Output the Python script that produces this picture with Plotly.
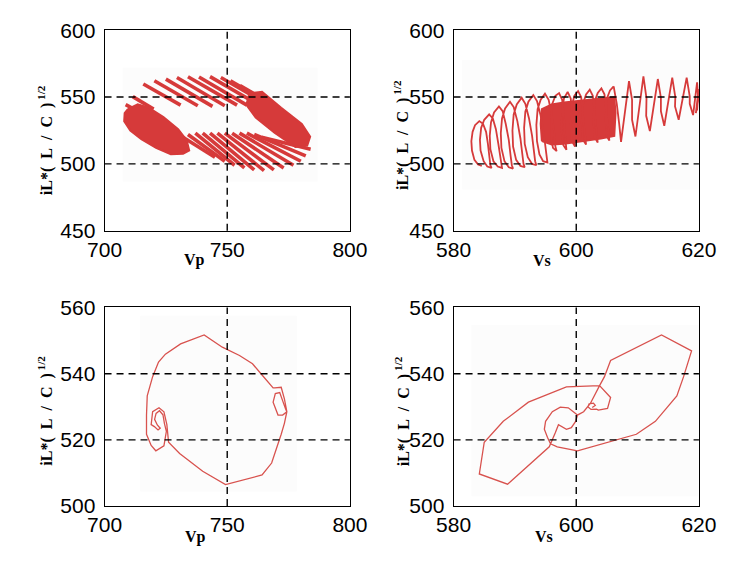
import plotly.graph_objects as go

# ---------------- data ----------------
# Top-left (Vp vs iL*sqrt(L/C)) : diagonal strokes and two dense blobs
TL_up_x0 = [708.6, 711.5, 715.8, 720.3, 725.0, 729.5, 734.0, 738.5, 743.0, 747.4, 751.3, 755.2]
TL_up_y0 = [544.3, 550.3, 559.8, 562.2, 563.4, 564.6, 565.2, 565.0, 565.3, 564.6, 562.2, 558.6]
TL_up_x1 = [716.0, 720.0, 731.0, 738.0, 744.0, 749.0, 754.0, 758.0, 762.0, 766.0, 769.0, 771.0]
TL_up_y1 = [537.0, 541.0, 544.0, 543.5, 543.0, 543.5, 544.0, 544.0, 545.0, 545.0, 543.5, 542.0]
TL_lo_x0 = [731, 734, 737, 740, 743, 746, 749, 752, 755, 758, 761, 764]
TL_lo_y0 = [521, 522, 523, 523, 523, 523, 523, 523, 523, 523, 522, 520]
TL_lo_x1 = [745, 749, 753, 757, 761, 765, 769, 773, 777, 780, 782, 784]
TL_lo_y1 = [505, 502, 499, 497, 495.5, 495, 495.5, 497, 499, 502, 506, 511]
TL_blobL_x = [709.5, 713.5, 718.0, 724.0, 730.0, 733.5, 734.5, 732.0, 727.0, 721.0, 715.0, 710.5, 708.0, 708.2, 709.5]
TL_blobL_y = [541.0, 544.5, 542.0, 535.0, 526.0, 517.5, 510.0, 507.5, 507.2, 512.0, 518.5, 525.0, 532.0, 538.0, 541.0]
TL_blobR_x = [759.0, 764.2, 772.0, 780.4, 783.8, 782.6, 777.8, 769.4, 761.6, 757.8, 759.0]
TL_blobR_y = [552.7, 553.9, 541.9, 529.9, 520.4, 513.7, 512.7, 523.2, 534.7, 544.3, 552.7]

# Top-right (Vs vs iL*sqrt(L/C)) : rounded coil on the left, through the dense block
TR_left_x = [584.6, 584.0, 583.4, 583.0, 582.9, 583.1, 583.5, 584.2,
             584.8, 585.3, 585.6, 585.9, 586.0, 586.2,
             585.5, 584.9, 584.4, 584.3, 584.5, 585.0, 585.8,
             586.4, 586.9, 587.3, 587.6, 587.8, 587.9,
             587.2, 586.5, 586.0, 585.9, 586.1, 586.6, 587.4,
             588.0, 588.5, 589.0, 589.3, 589.5, 589.7,
             589.0, 588.3, 587.8, 587.7, 587.9, 588.4, 589.2,
             589.8, 590.4, 590.9, 591.2, 591.4, 591.6,
             590.9, 590.2, 589.7, 589.6, 589.8, 590.3, 591.1,
             591.7, 592.3, 592.8, 593.1, 593.3, 593.5,
             592.8, 592.1, 591.6, 591.5, 591.7, 592.2, 593.0,
             593.6, 594.2, 594.7, 595.0, 595.2, 595.3,
             594.6, 594.0, 593.6, 593.5, 593.7, 594.2, 594.9,
             595.5, 596.0, 596.4, 596.6, 596.8,
             596.2, 595.9, 595.9, 596.1, 596.6, 597.2,
             597.7, 598.0, 598.2, 598.3, 598.4,
             597.9, 597.6, 597.7, 598.0, 598.6,
             599.1, 599.4, 599.6, 599.8,
             599.3, 599.1, 599.3, 599.7, 600.3,
             600.8, 601.1, 601.4, 601.6,
             601.1, 600.9, 601.1, 601.6, 602.2,
             602.7, 603.0, 603.3, 603.5,
             603.0, 602.8, 603.0, 603.5, 604.1,
             604.6, 604.9, 605.2, 605.4,
             604.9, 604.8, 605.0, 605.5, 606.1]
TR_left_y = [498.5, 499.5, 503.0, 510.0, 517.0, 524.0, 529.0, 532.0,
             530.0, 524.0, 515.0, 505.0, 499.0, 497.0,
             498.0, 502.0, 510.0, 518.0, 527.0, 533.0, 537.0,
             534.0, 526.0, 515.0, 505.0, 499.0, 497.0,
             498.0, 502.0, 511.0, 521.0, 531.0, 538.5, 543.0,
             539.5, 530.0, 518.0, 506.0, 499.0, 496.5,
             497.5, 502.0, 512.0, 523.0, 534.0, 541.5, 546.5,
             542.5, 532.0, 519.0, 507.0, 500.0, 497.5,
             498.5, 503.0, 513.0, 525.0, 537.0, 544.5, 549.5,
             545.0, 534.0, 521.0, 509.0, 502.0, 499.0,
             500.0, 505.0, 515.0, 527.0, 539.0, 546.5, 551.5,
             547.0, 536.0, 523.0, 511.0, 504.0, 501.0,
             502.0, 507.0, 517.0, 529.0, 541.0, 548.0, 552.5,
             548.0, 537.0, 524.0, 513.0, 509.5,
             512.0, 520.0, 533.0, 545.0, 551.0, 553.0,
             548.0, 535.0, 520.0, 512.0, 510.5,
             514.0, 525.0, 540.0, 549.0, 553.8,
             549.0, 535.0, 520.0, 513.0,
             517.0, 530.0, 544.0, 551.0, 554.5,
             550.0, 536.0, 521.0, 514.5,
             518.0, 531.0, 545.0, 552.0, 555.5,
             551.0, 538.0, 523.0, 516.0,
             520.0, 533.0, 547.0, 553.0, 556.5,
             552.0, 540.0, 525.0, 517.5,
             521.0, 535.0, 549.0, 555.0, 558.0]
TR_block_x = [594.4, 594.2, 594.4, 596.0, 598.0, 600.0, 602.0, 604.0, 606.2, 606.4, 606.2, 604.0, 602.0, 600.0, 598.0, 596.0, 594.4]
TR_block_y = [517.0, 530.0, 541.0, 544.5, 546.0, 547.0, 548.0, 549.0, 550.0, 538.0, 521.0, 519.0, 517.5, 516.0, 515.0, 514.5, 517.0]
# right part: lower valleys, upper peaks, upper valleys, lower shoulders
TR_right_x = [606.1, 606.6, 607.0, 607.3, 608.6, 609.1, 609.1, 609.65, 610.95, 611.45, 611.4, 612.0,
              613.3, 613.8, 613.8, 614.35, 615.65, 616.15, 616.1, 616.7, 618.0, 618.5, 618.5, 619.05,
              619.7, 619.9, 619.5, 619.95, 619.7]
TR_right_y = [558.0, 545.0, 530.0, 516.5, 562.0, 548.0, 533.0, 520.5, 565.5, 549.0, 536.0, 524.5,
              563.5, 549.5, 539.5, 528.5, 564.6, 550.0, 543.0, 533.0, 564.6, 550.5, 545.0, 536.5,
              561.0, 548.0, 538.0, 556.0, 540.0]

# Bottom-left trajectory
BL_x = [722.6, 721.5, 720.4, 721.0, 722.4, 723.8, 724.4, 725.2, 724.2, 721.8, 720.9, 719.0, 717.1, 717.1,
        717.4, 719.6, 722.0, 724.8, 726.7, 731.0, 740.6, 748.0, 755.0, 760.3, 764.2, 766.5, 768.7,
        769.4, 772.0, 773.3, 774.3, 772.6, 770.7, 768.7, 769.6, 771.4, 772.6, 773.8, 774.3, 773.3,
        772.0, 768.1, 764.2, 757.0, 749.3, 740.0, 730.6, 726.1, 725.4, 724.2, 722.2, 719.6, 719.0,
        720.3, 721.8, 722.9]
BL_y = [523.6, 524.5, 526.2, 528.0, 528.8, 527.6, 525.0, 522.6, 518.2, 517.0, 516.7, 518.3, 521.7, 527.5,
        533.3, 539.1, 543.5, 545.9, 546.9, 549.0, 551.7, 548.0, 545.5, 543.0, 539.6, 537.5, 535.7,
        535.7, 535.9, 532.4, 528.5, 527.5, 527.5, 531.4, 534.0, 534.3, 531.5, 529.3, 528.5, 525.0,
        521.7, 513.0, 509.4, 508.0, 506.5, 510.5, 515.9, 519.3, 524.6, 528.5, 529.7, 528.5, 524.6,
        524.0, 523.0, 523.7]

# Bottom-right trajectory
BR_x = [602.6, 603.1, 602.8, 602.1, 601.9, 602.4, 603.3, 603.6, 605.1, 605.6, 603.8, 598.4, 592.2,
        588.1, 585.0, 584.2, 588.8, 595.6, 596.6, 597.1, 598.4, 599.2, 599.9, 600.2, 601.2, 602.3,
        603.8, 604.6, 605.6, 613.9, 618.8, 617.5, 616.4, 612.9, 609.8, 602.5, 600.2, 596.9, 595.8,
        595.3, 594.8, 595.0, 596.1, 597.4, 598.7, 600.2]
BR_y = [529.8, 530.4, 531.1, 530.9, 530.0, 529.2, 529.3, 529.0, 529.5, 532.8, 536.4, 536.0, 531.4,
        525.6, 519.3, 509.7, 506.6, 517.9, 522.2, 524.6, 523.2, 523.7, 525.6, 527.5, 528.5, 531.0,
        536.4, 539.1, 544.0, 551.7, 546.9, 539.1, 533.3, 525.6, 521.7, 517.9, 516.7, 517.9, 518.8,
        520.8, 523.2, 525.6, 528.5, 529.9, 529.7, 527.5]

# axes
VP_RANGE = [700, 800]
VS_RANGE = [580, 620]
TOP_Y_RANGE = [450, 600]
BOT_Y_RANGE = [500, 560]
VP_TICKS = [700, 750, 800]
VS_TICKS = [580, 600, 620]
TOP_Y_TICKS = [450, 500, 550, 600]
BOT_Y_TICKS = [500, 520, 540, 560]
VP_GRID = [750]
VS_GRID = [600]
TOP_Y_GRID = [500, 550]
BOT_Y_GRID = [520, 540]

# ---------------- figure ----------------
RED = "#d63a3a"
RED_THIN = "#d8524e"

def seg_xy(x0, y0, x1, y1):
    xs, ys = [], []
    for a, b, c, d in zip(x0, y0, x1, y1):
        xs += [a, c, None]
        ys += [b, d, None]
    return xs, ys

fig = go.Figure()

# top-left
ux, uy = seg_xy(TL_up_x0, TL_up_y0, TL_up_x1, TL_up_y1)
lx, ly = seg_xy(TL_lo_x0, TL_lo_y0, TL_lo_x1, TL_lo_y1)
fig.add_trace(go.Scatter(x=ux, y=uy, mode="lines", line=dict(color=RED, width=3.6), xaxis="x", yaxis="y"))
fig.add_trace(go.Scatter(x=lx, y=ly, mode="lines", line=dict(color=RED, width=3.6), xaxis="x", yaxis="y"))
for bx, by in [(TL_blobL_x, TL_blobL_y), (TL_blobR_x, TL_blobR_y)]:
    fig.add_trace(go.Scatter(x=bx, y=by, mode="lines", fill="toself", fillcolor=RED,
                             line=dict(color=RED, width=2), xaxis="x", yaxis="y"))

# top-right
fig.add_trace(go.Scatter(x=TR_block_x, y=TR_block_y, mode="lines", fill="toself", fillcolor=RED,
                         line=dict(color=RED, width=2), xaxis="x2", yaxis="y2"))
fig.add_trace(go.Scatter(x=TR_left_x, y=TR_left_y, mode="lines", line=dict(color=RED, width=1.8),
                         xaxis="x2", yaxis="y2"))
fig.add_trace(go.Scatter(x=TR_right_x, y=TR_right_y, mode="lines", line=dict(color=RED, width=1.8),
                         xaxis="x2", yaxis="y2"))

# bottom
fig.add_trace(go.Scatter(x=BL_x, y=BL_y, mode="lines", line=dict(color=RED_THIN, width=1.3),
                         xaxis="x3", yaxis="y3"))
fig.add_trace(go.Scatter(x=BR_x, y=BR_y, mode="lines", line=dict(color=RED_THIN, width=1.3),
                         xaxis="x4", yaxis="y4"))

W, H = 735, 566
def px_x(p):
    return p / W
def px_y(p):
    return 1 - p / H

LX = [px_x(91), px_x(349)]
RX = [px_x(458), px_x(716)]
TY = [px_y(228), px_y(19)]
BY = [px_y(515), px_y(308)]

tickfont = dict(family="Liberation Sans Narrow, Arial Narrow, Liberation Sans, Arial", size=21, color="black")

def xax(dom, rng, tv, anchor):
    return dict(domain=dom, range=rng, tickvals=tv, showline=True, linecolor="black", linewidth=1,
                mirror=True, ticks="", showgrid=False, zeroline=False, tickfont=tickfont, anchor=anchor)

def yax(dom, rng, tv, anchor):
    return dict(domain=dom, range=rng, tickvals=tv, showline=True, linecolor="black", linewidth=1,
                mirror=True, ticks="", showgrid=False, zeroline=False, tickfont=tickfont, anchor=anchor,
                ticklabelstandoff=4)

shapes = []
# very faint scanned background patches
for xr, yr, x0, x1, y0, y1 in [("x", "y", 707.4, 786.8, 486.6, 572.0),
                               ("x2", "y2", 581.4, 619.9, 480.9, 577.8),
                               ("x3", "y3", 714.5, 778.4, 504.4, 557.5),
                               ("x4", "y4", 582.9, 619.9, 503.0, 554.7)]:
    shapes.append(dict(type="rect", xref=xr, yref=yr, x0=x0, x1=x1, y0=y0, y1=y1,
                       fillcolor="#fcfcfc", line=dict(width=0), layer="below"))

grid_line = dict(color="black", width=1.4, dash="7px,5px")
for xr, yr, xg, yg in [("x", "y", VP_GRID, TOP_Y_GRID), ("x2", "y2", VS_GRID, TOP_Y_GRID),
                       ("x3", "y3", VP_GRID, BOT_Y_GRID), ("x4", "y4", VS_GRID, BOT_Y_GRID)]:
    for v in xg:
        shapes.append(dict(type="line", xref=xr, yref=yr + " domain", x0=v, x1=v, y0=0, y1=1,
                           line=grid_line, layer="above"))
    for v in yg:
        shapes.append(dict(type="line", xref=xr + " domain", yref=yr, x0=0, x1=1, y0=v, y1=v,
                           line=grid_line, layer="above"))

title_font = dict(family="Liberation Serif, Times New Roman, serif", size=16, color="black")
NB = "\u00a0"
ytitle = ("<b>iL*(" + NB * 2 + "L" + NB * 2 + "/" + NB * 2 + "C" + NB * 2 + ")</b>"
          "<sup><b>" + NB + "1/2</b></sup>")
annotations = []
for xc, yc in [(29, 134), (404, 128), (29, 416), (404, 416)]:
    annotations.append(dict(text=ytitle, x=px_x(xc), y=px_y(yc), xref="paper", yref="paper",
                            showarrow=False, textangle=-90, font=title_font,
                            xanchor="center", yanchor="middle"))
for txt, xc, yc in [("Vp", 186, 258), ("Vs", 551, 259), ("Vp", 187, 547), ("Vs", 553, 547)]:
    annotations.append(dict(text="<b>" + txt + "</b>", x=px_x(xc), y=px_y(yc), xref="paper", yref="paper",
                            showarrow=False, font=dict(family="Liberation Serif, Times New Roman, serif",
                                                       size=16, color="black"),
                            xanchor="center", yanchor="middle"))

fig.update_layout(
    width=W, height=H, margin=dict(l=0, r=0, t=0, b=0),
    paper_bgcolor="white", plot_bgcolor="white", showlegend=False,
    xaxis=xax(LX, VP_RANGE, VP_TICKS, "y"), yaxis=yax(TY, TOP_Y_RANGE, TOP_Y_TICKS, "x"),
    xaxis2=xax(RX, VS_RANGE, VS_TICKS, "y2"), yaxis2=yax(TY, TOP_Y_RANGE, TOP_Y_TICKS, "x2"),
    xaxis3=xax(LX, VP_RANGE, VP_TICKS, "y3"), yaxis3=yax(BY, BOT_Y_RANGE, BOT_Y_TICKS, "x3"),
    xaxis4=xax(RX, VS_RANGE, VS_TICKS, "y4"), yaxis4=yax(BY, BOT_Y_RANGE, BOT_Y_TICKS, "x4"),
    shapes=shapes, annotations=annotations,
)

fig.write_html("out.html")
